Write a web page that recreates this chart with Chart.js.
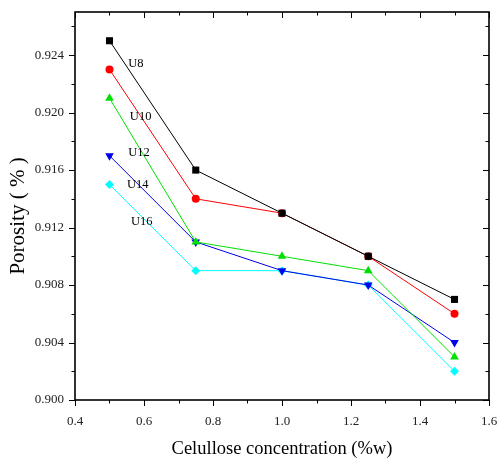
<!DOCTYPE html>
<html><head><meta charset="utf-8">
<script src="https://cdn.jsdelivr.net/npm/chart.js@4/dist/chart.umd.min.js"></script>
<style>html,body{margin:0;padding:0;background:#fff}#wrap{width:498px;height:464px}</style>
</head><body><div id="wrap"><canvas id="c" width="498" height="464"></canvas></div>
<script>
const concentrations = [0.5, 0.75, 1.0, 1.25, 1.5];
const seriesNames = ["U8", "U10", "U12", "U14", "U16"];
const u8  = [0.925, 0.916, 0.913, 0.910, 0.907];
const u10 = [0.923, 0.914, 0.913, 0.910, 0.906];
const u12 = [0.921, 0.911, 0.910, 0.909, 0.903];
const u14 = [0.917, 0.911, 0.909, 0.908, 0.904];
const u16 = [0.915, 0.909, 0.909, 0.908, 0.902];
const xTickLabels = ["0.4","0.6","0.8","1.0","1.2","1.4","1.6"];
const yTickLabels = ["0.900","0.904","0.908","0.912","0.916","0.920","0.924"];
// annotation label anchors (data coords)
const labelX = [0.554, 0.559, 0.554, 0.551, 0.562];
const labelY = [0.9234, 0.9197, 0.9172, 0.9150, 0.9124];

const colors = ["#000000", "#ff0000", "#00e000", "#0000ee", "#00ffff"];
const styles = ["rect", "circle", "triangle", "triangle", "rectRot"];
const radii = [5, 4, 5, 5, 4.5];
const rots = [0, 0, 0, 180, 0];
const allData = [u8, u10, u12, u14, u16];

const serif = "'Liberation Serif', 'DejaVu Serif', serif";

const frameTicks = {
  id: 'frameTicks',
  afterDraw(chart) {
    const ctx = chart.ctx, a = chart.chartArea;
    const xs = chart.scales.x, ys = chart.scales.y;
    ctx.save();
    ctx.strokeStyle = '#000';
    ctx.lineWidth = 1;
    for (let i = 0; i <= 12; i++) {
      const v = 0.4 + i * 0.1;
      const px = Math.round(xs.getPixelForValue(v)) + 0.5;
      const len = (i % 2 === 0) ? 6 : 3.5;
      ctx.beginPath(); ctx.moveTo(px, a.bottom); ctx.lineTo(px, a.bottom + len); ctx.stroke();
      ctx.beginPath(); ctx.moveTo(px, a.top); ctx.lineTo(px, a.top + len); ctx.stroke();
    }
    for (let i = 0; i <= 13; i++) {
      const v = 0.900 + i * 0.002;
      if (v > 0.9271) break;
      const py = Math.round(ys.getPixelForValue(v)) + 0.5;
      const len = (i % 2 === 0) ? 6 : 3.5;
      ctx.beginPath(); ctx.moveTo(a.left, py); ctx.lineTo(a.left - len, py); ctx.stroke();
      ctx.beginPath(); ctx.moveTo(a.right, py); ctx.lineTo(a.right - len, py); ctx.stroke();
    }
    ctx.lineWidth = 1.6;
    ctx.strokeRect(a.left, a.top, a.right - a.left, a.bottom - a.top);
    // series labels
    ctx.fillStyle = '#000';
    ctx.font = "12.5px " + serif;
    ctx.textBaseline = 'middle';
    ctx.textAlign = 'left';
    for (let i = 0; i < seriesNames.length; i++) {
      ctx.fillText(seriesNames[i], xs.getPixelForValue(labelX[i]), ys.getPixelForValue(labelY[i]));
    }
    // y axis title
    ctx.save();
    ctx.translate(18, (a.top + a.bottom) / 2 + 10);
    ctx.rotate(-Math.PI / 2);
    ctx.textAlign = 'center';
    ctx.textBaseline = 'middle';
    ctx.font = "21px " + serif;
    ctx.fillText('Porosity ( % )', 0, 0);
    ctx.restore();
    ctx.restore();
  }
};

new Chart(document.getElementById('c'), {
  type: 'line',
  data: {
    datasets: seriesNames.map((n, i) => ({
      label: n,
      data: concentrations.map((x, j) => ({x: x, y: allData[i][j]})),
      borderColor: colors[i],
      backgroundColor: colors[i],
      borderWidth: 1,
      pointStyle: styles[i],
      pointRadius: radii[i],
      pointRotation: rots[i],
      pointBorderWidth: 0,
      pointHoverRadius: radii[i],
      tension: 0
    }))
  },
  options: {
    responsive: false,
    animation: false,
    layout: { padding: { top: 12, right: 9, left: 0, bottom: 0 } },
    plugins: { legend: { display: false }, tooltip: { enabled: false } },
    scales: {
      x: {
        type: 'linear', min: 0.4, max: 1.6,
        afterBuildTicks(s) { s.ticks = xTickLabels.map(t => ({value: parseFloat(t)})); },
        ticks: { callback: (v) => xTickLabels.find(t => Math.abs(parseFloat(t) - v) < 1e-9) || '', color: '#222', font: { family: serif, size: 13 }, padding: 14, maxRotation: 0 },
        grid: { drawOnChartArea: false, drawTicks: false, tickLength: 6 },
        border: { display: false },
        title: { display: true, text: 'Celullose concentration (%w)', color: '#000', font: { family: serif, size: 18.5 }, padding: { top: 10 } },
        afterFit(s) { s.height = 64; s.paddingLeft = 0; s.paddingRight = 0; }
      },
      y: {
        type: 'linear', min: 0.900, max: 0.9270,
        afterBuildTicks(s) { s.ticks = yTickLabels.map(t => ({value: parseFloat(t)})); },
        ticks: { callback: (v) => yTickLabels.find(t => Math.abs(parseFloat(t) - v) < 1e-9) || '', color: '#222', font: { family: serif, size: 13 }, padding: 11 },
        grid: { drawOnChartArea: false, drawTicks: false, tickLength: 6 },
        border: { display: false },
        title: { display: false },
        afterFit(s) { s.width = 75; s.paddingTop = 0; s.paddingBottom = 0; }
      }
    }
  },
  plugins: [frameTicks]
});
</script>
</body></html>
